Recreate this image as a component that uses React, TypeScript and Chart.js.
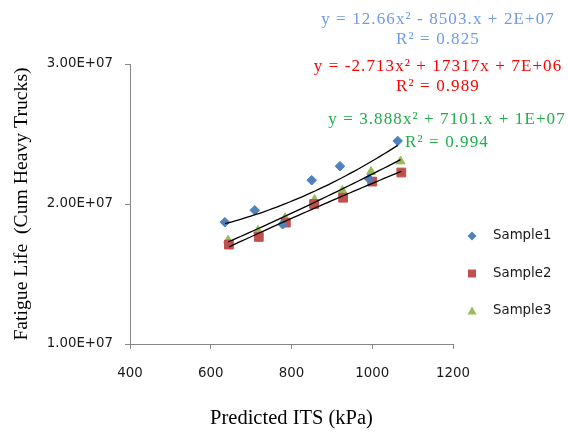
import React, { useEffect, useRef } from 'react';
import { Chart, registerables } from 'chart.js';

Chart.register(...registerables);

const seriesNames = ['Sample1', 'Sample2', 'Sample3'];
const sample1X = [635, 709, 778, 850, 920, 992, 1063];
const sample1Y = [1.87e7, 1.955e7, 1.855e7, 2.17e7, 2.27e7, 2.18e7, 2.45e7];
const sample2X = [645, 719, 786, 856, 928, 1000, 1072];
const sample2Y = [1.71e7, 1.765e7, 1.867e7, 2.0e7, 2.045e7, 2.16e7, 2.225e7];
const sample3X = [643, 717, 784, 857, 926, 997, 1070];
const sample3Y = [1.74e7, 1.81e7, 1.9e7, 2.03e7, 2.095e7, 2.23e7, 2.305e7];

const equationTexts = [
  'y = 12.66x² - 8503.x + 2E+07',
  'y = -2.713x² + 17317x + 7E+06',
  'y = 3.888x² + 7101.x + 1E+07',
];
const r2Texts = ['R² = 0.825', 'R² = 0.989', 'R² = 0.994'];

const xMin = 400;
const xMax = 1200;
const xStep = 200;
const yMin = 1e7;
const yMax = 3e7;
const yStep = 1e7;

const markerColors = ['#4F81BD', '#C0504D', '#9BBB59'];
const pointStyles = ['rectRot', 'rect', 'triangle'];
const pointRadii = [4.8, 6.2, 5.2];
const equationColors = ['#6F9BE3', '#FF0000', '#1FAE4B'];

function fitQuadratic(xs: number[], ys: number[]) {
  let s0 = 0, s1 = 0, s2 = 0, s3 = 0, s4 = 0, t0 = 0, t1 = 0, t2 = 0;
  for (let i = 0; i < xs.length; i++) {
    const x = xs[i];
    const y = ys[i];
    s0 += 1; s1 += x; s2 += x * x; s3 += x * x * x; s4 += x * x * x * x;
    t0 += y; t1 += x * y; t2 += x * x * y;
  }
  const M = [
    [s4, s3, s2, t2],
    [s3, s2, s1, t1],
    [s2, s1, s0, t0],
  ];
  for (let i = 0; i < 3; i++) {
    let p = i;
    for (let r = i + 1; r < 3; r++) if (Math.abs(M[r][i]) > Math.abs(M[p][i])) p = r;
    [M[i], M[p]] = [M[p], M[i]];
    for (let r = 0; r < 3; r++) {
      if (r === i) continue;
      const f = M[r][i] / M[i][i];
      for (let c = i; c < 4; c++) M[r][c] -= f * M[i][c];
    }
  }
  return [M[0][3] / M[0][0], M[1][3] / M[1][1], M[2][3] / M[2][2]];
}

function trendPoints(xs: number[], ys: number[]) {
  const [a, b, c] = fitQuadratic(xs, ys);
  const lo = Math.min(...xs);
  const hi = Math.max(...xs);
  const pts: { x: number; y: number }[] = [];
  const n = 40;
  for (let i = 0; i <= n; i++) {
    const x = lo + ((hi - lo) * i) / n;
    pts.push({ x, y: a * x * x + b * x + c });
  }
  return pts;
}

function formatSci(v: number) {
  const [m, e] = v.toExponential(2).split('e');
  const sign = e[0] === '-' ? '-' : '+';
  const digits = e.replace(/[+-]/, '').padStart(2, '0');
  return `${m}E${sign}${digits}`.toUpperCase();
}

const overlayPlugin = {
  id: 'overlay',
  afterDraw(chart: any) {
    const ctx = chart.ctx as CanvasRenderingContext2D;
    ctx.save();
    const eqCenters = [
      [438, 20, 40],
      [438, 67, 87],
      [447, 120, 143],
    ];
    ctx.textAlign = 'center';
    ctx.textBaseline = 'middle';
    ctx.font = '17px "Liberation Serif", "Times New Roman", serif';
    (ctx as any).letterSpacing = '1.1px';
    for (let i = 0; i < 3; i++) {
      ctx.fillStyle = equationColors[i];
      ctx.fillText(equationTexts[i], eqCenters[i][0], eqCenters[i][1]);
      ctx.fillText(r2Texts[i], eqCenters[i][0], eqCenters[i][2]);
    }
    (ctx as any).letterSpacing = '0px';
    const lx = 472;
    const rows = [236, 273.5, 311];
    ctx.textAlign = 'left';
    ctx.font = '13.33px "DejaVu Sans", Verdana, sans-serif';
    for (let i = 0; i < 3; i++) {
      const y = rows[i];
      ctx.fillStyle = markerColors[i];
      ctx.beginPath();
      if (i === 0) {
        ctx.moveTo(lx, y - 4.5);
        ctx.lineTo(lx + 4.5, y);
        ctx.lineTo(lx, y + 4.5);
        ctx.lineTo(lx - 4.5, y);
      } else if (i === 1) {
        ctx.rect(lx - 4, y - 4, 8, 8);
      } else {
        ctx.moveTo(lx, y - 4.5);
        ctx.lineTo(lx + 4.5, y + 3.5);
        ctx.lineTo(lx - 4.5, y + 3.5);
      }
      ctx.closePath();
      ctx.fill();
      ctx.fillStyle = '#1a1a1a';
      ctx.fillText(seriesNames[i], 493, y);
    }
    ctx.restore();
  },
};

export default function App() {
  const ref = useRef<HTMLCanvasElement | null>(null);
  useEffect(() => {
    if (!ref.current) return;
    const xsList = [sample1X, sample2X, sample3X];
    const ysList = [sample1Y, sample2Y, sample3Y];
    const scatterSets = xsList.map((xs, i) => ({
      type: 'scatter' as const,
      label: seriesNames[i],
      data: xs.map((x, j) => ({ x, y: ysList[i][j] })),
      backgroundColor: markerColors[i],
      borderColor: markerColors[i],
      borderWidth: 1,
      pointStyle: pointStyles[i],
      pointRadius: pointRadii[i],
      order: 2,
    }));
    const trendSets = xsList.map((xs, i) => ({
      type: 'line' as const,
      label: seriesNames[i] + ' trend',
      data: trendPoints(xs, ysList[i]),
      borderColor: '#000000',
      borderWidth: 1.3,
      pointRadius: 0,
      fill: false,
      tension: 0,
      order: 1,
    }));
    const serif = '"Liberation Serif", "Times New Roman", serif';
    const chart = new Chart(ref.current, {
      type: 'scatter',
      data: { datasets: [...trendSets, ...scatterSets] as any },
      options: {
        animation: false,
        responsive: true,
        maintainAspectRatio: false,
        layout: { padding: { left: 0, right: 115, top: 64, bottom: 0 } },
        plugins: {
          legend: { display: false },
          tooltip: { enabled: false },
        },
        scales: {
          x: {
            type: 'linear',
            min: xMin,
            max: xMax,
            afterFit: (s: any) => {
              s.height = 88;
            },
            ticks: {
              stepSize: xStep,
              color: '#1a1a1a',
              font: { family: '"DejaVu Sans", Verdana, sans-serif', size: 13.33 },
              padding: 17,
              callback: (v: any) => String(Number(v)),
            },
            grid: {
              display: true,
              drawOnChartArea: false,
              drawTicks: true,
              tickLength: 5,
              color: '#868686',
            },
            border: { display: true, color: '#868686', width: 1 },
            title: {
              display: true,
              text: 'Predicted ITS (kPa)',
              color: '#000000',
              font: { family: serif, size: 20.5 },
              padding: { top: 0, bottom: 1 },
            },
          },
          y: {
            type: 'linear',
            min: yMin,
            max: yMax,
            afterFit: (s: any) => {
              s.width = 130;
            },
            ticks: {
              stepSize: yStep,
              color: '#1a1a1a',
              font: { family: '"DejaVu Sans", Verdana, sans-serif', size: 13.33 },
              padding: 12,
              callback: (v: any) => formatSci(Number(v)),
            },
            grid: {
              display: true,
              drawOnChartArea: false,
              drawTicks: true,
              tickLength: 5,
              color: '#868686',
            },
            border: { display: true, color: '#868686', width: 1 },
            title: {
              display: true,
              text: 'Fatigue Life  (Cum Heavy Trucks)',
              color: '#000000',
              font: { family: serif, size: 19.7 },
              padding: { top: 10, bottom: 0 },
            },
          },
        },
      },
      plugins: [overlayPlugin],
    });
    return () => chart.destroy();
  }, []);
  return (
    <div style={{ position: 'fixed', left: 0, top: 0, width: 568, height: 432, background: '#ffffff' }}>
      <canvas ref={ref} />
    </div>
  );
}
